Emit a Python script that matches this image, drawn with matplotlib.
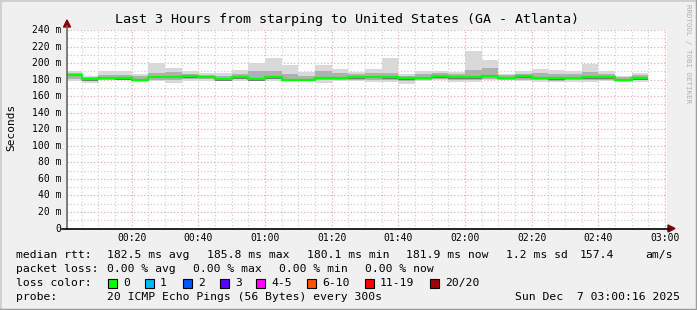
import numpy as np
import matplotlib.pyplot as plt
from matplotlib.patches import Polygon, Rectangle
from matplotlib.lines import Line2D

# ---- data (5 minute steps, minutes after 00:00) ----
t_start = 0.6
t_end = list(range(5, 180, 5))

median = [185.8, 180.8, 182.4, 181.6, 180.0, 183.6, 183.6, 184.4, 183.6, 180.8,
          183.2, 180.8, 183.2, 180.0, 180.0, 182.4, 182.4, 183.2, 183.6, 183.2,
          181.6, 182.4, 184.0, 183.2, 183.2, 184.7, 182.4, 184.0, 182.4, 181.6,
          182.4, 183.2, 183.2, 180.0, 181.9]
smoke_hi = [190.1, 184.4, 190.1, 190.1, 187.3, 199.8, 194.1, 190.1, 188.1, 188.1,
            191.7, 199.8, 206.6, 197.8, 189.7, 197.8, 192.9, 189.7, 192.9, 206.6,
            186.5, 190.5, 190.5, 189.7, 214.7, 204.2, 187.3, 190.5, 192.5, 191.7,
            190.5, 199.4, 190.5, 184.9, 188.5]
smoke_lo = [178.4, 176.4, 179.2, 179.2, 177.6, 178.4, 176.4, 178.4, 178.4, 178.4,
            178.4, 179.2, 178.4, 179.2, 179.2, 176.4, 178.4, 178.4, 177.6, 177.6,
            175.2, 178.4, 179.2, 177.0, 177.0, 179.2, 179.2, 178.4, 177.0, 177.0,
            177.6, 177.0, 178.4, 177.0, 177.0]
mid_hi = [188.5, 183.0, 186.0, 185.5, 184.0, 188.0, 189.0, 186.5, 186.0, 184.0,
          187.0, 190.0, 191.0, 187.0, 184.5, 190.0, 188.0, 187.0, 188.0, 187.5,
          184.0, 186.5, 187.5, 186.5, 192.0, 194.0, 185.0, 187.0, 188.0, 186.5,
          186.5, 189.0, 186.5, 183.5, 185.5]
mid_lo = [181.0, 178.5, 180.0, 180.0, 178.5, 179.5, 179.0, 181.0, 180.5, 179.5,
          180.5, 179.5, 180.5, 179.0, 179.5, 179.0, 180.0, 180.0, 180.0, 180.0,
          178.0, 180.0, 181.0, 179.5, 180.0, 181.0, 180.0, 180.0, 179.0, 178.5,
          179.5, 179.5, 180.0, 178.0, 179.0]

xticks = [20, 40, 60, 80, 100, 120, 140, 160, 180]
xlabels = ['00:20', '00:40', '01:00', '01:20', '01:40', '02:00', '02:20', '02:40', '03:00']
yticks = [0, 20, 40, 60, 80, 100, 120, 140, 160, 180, 200, 220, 240]
ylabels = ['0'] + ['%d m' % v for v in yticks[1:]]

loss_names = ['0', '1', '2', '3', '4-5', '6-10', '11-19', '20/20']
loss_colors = ['#00ff00', '#00b8ff', '#0059ff', '#5e00ff', '#ff00ff', '#ff5500', '#ff0000', '#a10000']

W, H = 697, 310
mono = 'DejaVu Sans Mono'

def fx(x):
    return x / W

def fy(y):
    return 1 - y / H

fig = plt.figure(figsize=(W / 100, H / 100), dpi=100)
fig.patch.set_facecolor('#f0f0f0')

# 3d frame
fig.add_artist(Line2D([0, 0, 1], [0, 1, 1], transform=fig.transFigure, color='#cfcfcf', lw=2))
fig.add_artist(Line2D([0, 1, 1], [0, 0, 1], transform=fig.transFigure, color='#9e9e9e', lw=2.5))

ax = fig.add_axes([fx(67), fy(228.5), 600 / W, 198.5 / H])
ax.set_facecolor('white')
ax.set_xlim(t_start, t_start + 180)
ax.set_ylim(0, 240)

# grid
for v in range(5, 181, 5):
    if v % 20:
        ax.axvline(v, color='#cccccc', lw=0.8, ls=(0, (1, 2)), zorder=0)
for v in range(10, 241, 20):
    ax.axhline(v, color='#cccccc', lw=0.8, ls=(0, (1, 2)), zorder=0)
for v in xticks:
    ax.axvline(v, color='#f2a0a0', lw=0.8, ls=(0, (1, 2)), zorder=0)
for v in yticks[1:]:
    ax.axhline(v, color='#f2a0a0', lw=0.8, ls=(0, (1, 2)), zorder=0)

edges = [t_start] + t_end
ax.stairs(smoke_hi, edges, baseline=smoke_lo, fill=True, color='#d9d9d9', lw=0, zorder=1)
ax.stairs(mid_hi, edges, baseline=mid_lo, fill=True, color='#b0b0b0', lw=0, zorder=2)
core_hi = [m + 1.2 for m in median]
core_lo = [m - 2.0 for m in median]
ax.stairs(core_hi, edges, baseline=core_lo, fill=True, color='#777777', lw=0, zorder=3)
ax.stairs(median, edges, baseline=None, color='#00ff00', lw=1.6, zorder=4)

for s in ax.spines.values():
    s.set_visible(False)
ax.set_xticks([])
ax.set_yticks([])

# axes lines and arrows
fig.add_artist(Line2D([fx(67), fx(67)], [fy(229), fy(26)], transform=fig.transFigure, color='#666666', lw=1.2))
fig.add_artist(Line2D([fx(62), fx(669)], [fy(228.5), fy(228.5)], transform=fig.transFigure, color='#000000', lw=1.2))
fig.add_artist(Polygon([(fx(63.5), fy(27)), (fx(70.5), fy(27)), (fx(67), fy(20))], closed=True,
                       transform=fig.transFigure, color='#800000'))
fig.add_artist(Polygon([(fx(668), fy(225), ), (fx(668), fy(232)), (fx(675), fy(228.5))], closed=True,
                       transform=fig.transFigure, color='#800000'))

# tick labels
for v, lab in zip(yticks, ylabels):
    y = 228.5 - v * 198.5 / 240
    fig.text(fx(61), fy(y), lab, ha='right', va='center', family=mono, fontsize=7, color='#000000')
for v, lab in zip(xticks, xlabels):
    x = 67 + (v - t_start) * 600 / 180
    fig.text(fx(x), fy(238), lab, ha='center', va='center', family=mono, fontsize=7, color='#000000')

fig.text(fx(347), fy(19), 'Last 3 Hours from starping to United States (GA - Atlanta)',
         ha='center', va='center', family=mono, fontsize=9.6)
fig.text(fx(11), fy(127), 'Seconds', rotation=90, ha='center', va='center', family=mono, fontsize=8)
fig.text(fx(688), fy(4), 'RRDTOOL / TOBI OETIKER', rotation=270, ha='center', va='top',
         family=mono, fontsize=5.3, color='#b0b0b0')

# legend
fs = 8.2
def put(x, y, s, **kw):
    fig.text(fx(x), fy(y), s, ha=kw.pop('ha', 'left'), va='center', family=mono, fontsize=fs, **kw)

put(16, 255, 'median rtt:')
put(107, 255, '182.5 ms avg')
put(207, 255, '185.8 ms max')
put(307, 255, '180.1 ms min')
put(406, 255, '181.9 ms now')
put(506, 255, '1.2 ms sd')
put(580, 255, '157.4')
put(645, 255, 'am/s')

put(16, 269, 'packet loss:')
put(107, 269, '0.00 % avg')
put(193, 269, '0.00 % max')
put(279, 269, '0.00 % min')
put(365, 269, '0.00 % now')

put(16, 283, 'loss color:')
box_x = [108, 145, 183, 220, 256, 307, 365, 430]
for bx, name, col in zip(box_x, loss_names, loss_colors):
    fig.add_artist(Rectangle((fx(bx), fy(288)), 9 / W, 9 / H, transform=fig.transFigure,
                             facecolor=col, edgecolor='black', lw=0.8))
    put(bx + 15, 283, name)

put(16, 297, 'probe:')
put(107, 297, '20 ICMP Echo Pings (56 Bytes) every 300s')
put(680, 297, 'Sun Dec  7 03:00:16 2025', ha='right')

fig.savefig('out.png', dpi=100, facecolor=fig.get_facecolor())
